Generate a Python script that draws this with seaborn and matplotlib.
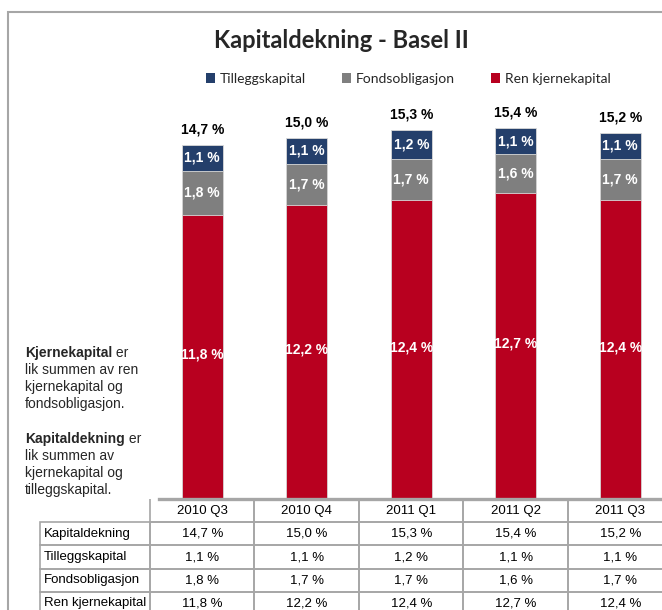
import matplotlib
matplotlib.use("Agg")
import matplotlib.pyplot as plt
import seaborn as sns
import pandas as pd
from matplotlib.patches import Rectangle, Patch
from matplotlib.table import Table

# Data (percent)
quarters = ["2010 Q3", "2010 Q4", "2011 Q1", "2011 Q2", "2011 Q3"]
kapitaldekning = [14.7, 15.0, 15.3, 15.4, 15.2]
tilleggskapital = [1.1, 1.1, 1.2, 1.1, 1.1]
fondsobligasjon = [1.8, 1.7, 1.7, 1.6, 1.7]
ren_kjernekapital = [11.8, 12.2, 12.4, 12.7, 12.4]

series = ["Tilleggskapital", "Fondsobligasjon", "Ren kjernekapital"]
table_rows = ["Kapitaldekning", "Tilleggskapital", "Fondsobligasjon", "Ren kjernekapital"]

navy = "#243F6B"
grey = "#7F7F7F"
red = "#B8001F"
line_grey = "#A6A6A6"

df = pd.DataFrame({
    "kvartal": quarters,
    "total": kapitaldekning,
    "tillegg": tilleggskapital,
    "fond": fondsobligasjon,
    "ren": ren_kjernekapital,
})
df["fond_top"] = df["ren"] + df["fond"]
df["tillegg_top"] = df["fond_top"] + df["tillegg"]


def pct(v):
    return f"{v:.1f} %".replace(".", ",")


sns.set_style("white")
plt.rcParams["font.family"] = ["Liberation Sans", "DejaVu Sans"]

W, H = 662, 610
AX_W, AX_H = 522.5, 385.6
fig = plt.figure(figsize=(W / 100, H / 100), dpi=100)
ax = fig.add_axes([150 / W, 111 / H, AX_W / W, AX_H / H])

# stacked bars: draw the cumulative heights on top of each other
bar_kw = dict(width=0.39, saturation=1, edgecolor="#D9D9D9", linewidth=0.6, ax=ax)
sns.barplot(data=df, x="kvartal", y="tillegg_top", color=navy, **bar_kw)
sns.barplot(data=df, x="kvartal", y="fond_top", color=grey, **bar_kw)
sns.barplot(data=df, x="kvartal", y="ren", color=red, **bar_kw)

ax.set_xlim(-0.5, 4.5)
ax.set_ylim(0, 16)
ax.set_xticks([])
ax.set_yticks([])
ax.set_xlabel("")
ax.set_ylabel("")
for s in ["top", "left", "right"]:
    ax.spines[s].set_visible(False)
ax.spines["bottom"].set_color(line_grey)
ax.spines["bottom"].set_linewidth(2.4)
ax.spines["bottom"].set_bounds(-0.41, 4.5)
ax.spines["bottom"].set_zorder(5)

# value labels
lab = dict(ha="center", va="center", color="white", fontsize=10, fontweight="bold")
for i, r in df.iterrows():
    ax.text(i, r["ren"] / 2 + 0.1, pct(r["ren"]), **lab)
    ax.text(i, r["ren"] + r["fond"] / 2, pct(r["fond"]), **lab)
    ax.text(i, r["fond_top"] + r["tillegg"] / 2, pct(r["tillegg"]), **lab)
    ax.annotate(pct(r["total"]), (i, r["tillegg_top"]), xytext=(0, 11),
                textcoords="offset points", ha="center", va="center",
                fontsize=10, fontweight="bold", color="black")

# data table under the bars (sizes in axes fractions)
col_w = 1 / len(quarters)
lab_w = 110 / AX_W
row_h = 116 / 5 / AX_H
tbl = Table(ax, bbox=[0, -5 * row_h, 1, 5 * row_h])
tbl.auto_set_font_size(False)
for j, q in enumerate(quarters):
    c = tbl.add_cell(0, j, col_w, row_h, text=q, loc="center", edgecolor=line_grey,
                     facecolor="none")
    c.visible_edges = "BRL"
values = [kapitaldekning, tilleggskapital, fondsobligasjon, ren_kjernekapital]
for i, (name, vals) in enumerate(zip(table_rows, values), start=1):
    c = tbl.add_cell(i, -1, lab_w, row_h, text=name, loc="left", edgecolor=line_grey, facecolor="none")
    c.PAD = 0.035
    for j, v in enumerate(vals):
        tbl.add_cell(i, j, col_w, row_h, text=pct(v), loc="center",
                     edgecolor=line_grey, facecolor="none")
for cell in tbl.get_celld().values():
    cell.set_linewidth(1.2)
    cell.get_text().set_fontsize(9.5)
    cell.get_text().set_color("black")
ax.add_table(tbl)

# title and legend
fig.text(341 / W, 1 - 40 / H, "Kapitaldekning - Basel II", ha="center", va="center",
         fontsize=17, fontweight="bold", family=["Lato", "DejaVu Sans"])
handles = [Patch(facecolor=c, edgecolor="none") for c in [navy, grey, red]]
fig.legend(handles, series, loc="center", bbox_to_anchor=(408 / W, 1 - 79 / H), ncol=3,
           frameon=False, handlelength=0.7, handleheight=0.7, handletextpad=0.3,
           columnspacing=2.6, prop={"family": ["Lato", "DejaVu Sans"], "size": 10},
           labelcolor="#262626")

# explanatory text on the left, bold term followed by normal text
notes = [
    [("Kjernekapital", "bold"), (" er", "normal")],
    [("lik summen av ren", "normal")],
    [("kjernekapital og", "normal")],
    [("fondsobligasjon.", "normal")],
    None,
    [("Kapitaldekning", "bold"), (" er", "normal")],
    [("lik summen av", "normal")],
    [("kjernekapital og", "normal")],
    [("tilleggskapital.", "normal")],
]
renderer = fig.canvas.get_renderer()
y0 = 1 - 357 / H
step = 17.1 / H
for k, line in enumerate(notes):
    if line is None:
        continue
    x = 25 / W
    y = y0 - k * step
    for txt, w in line:
        t = fig.text(x, y, txt, fontsize=10, fontweight=w, ha="left", va="baseline")
        bb = t.get_window_extent(renderer)
        x = bb.x1 / W

# outer frame of the original slide box
fig.patches.append(Rectangle((8 / W, -0.5), 2, 1.5 - 12 / H, transform=fig.transFigure,
                             fill=False, edgecolor=line_grey, linewidth=1.5))

fig.savefig("out.png", dpi=100)
